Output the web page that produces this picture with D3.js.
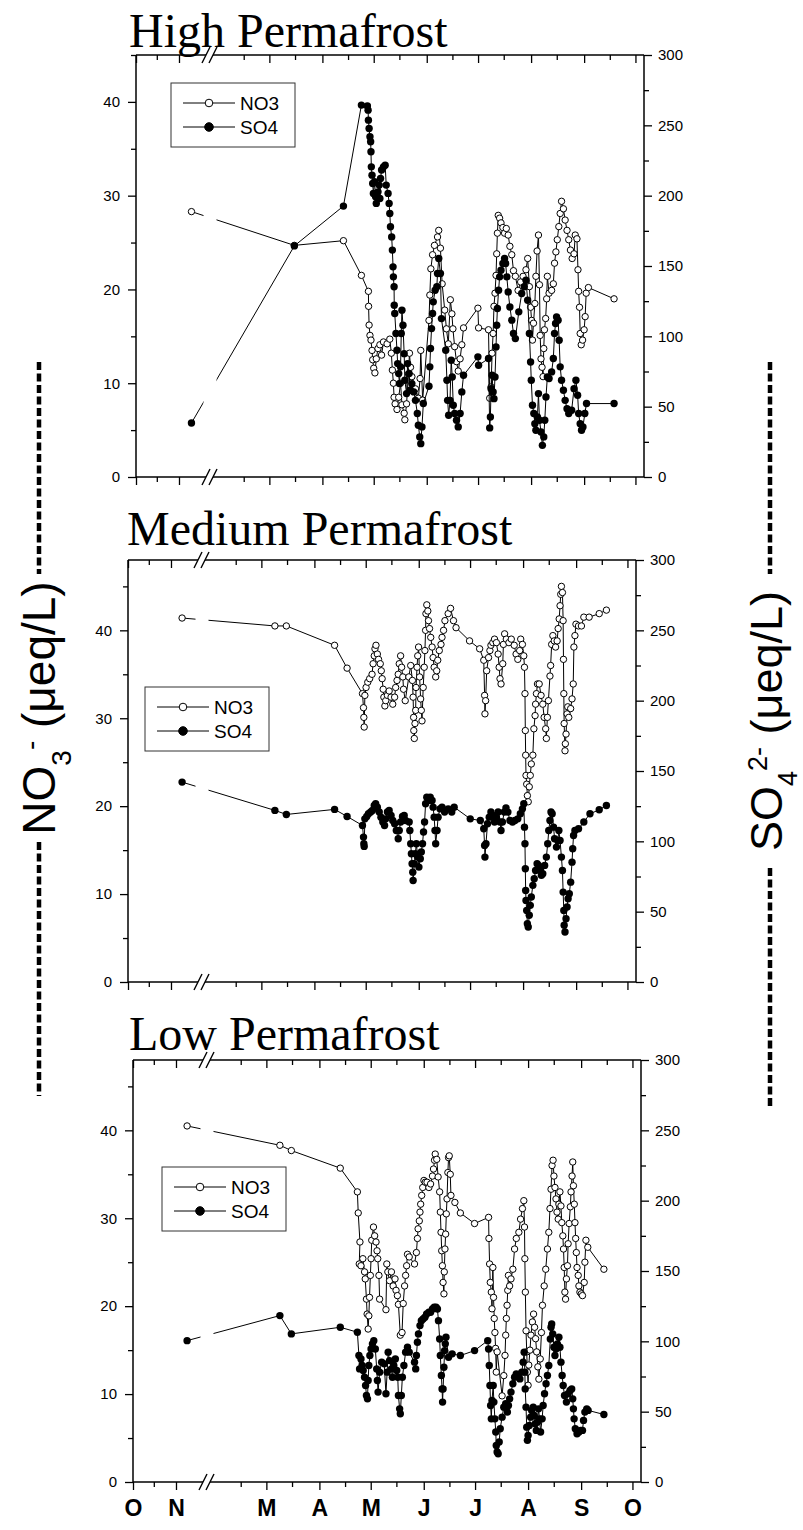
<!DOCTYPE html>
<html><head><meta charset="utf-8">
<script src="https://cdn.jsdelivr.net/npm/d3@7"></script>
<style>body{margin:0;background:#fff}</style>
</head><body>
<svg id="chart" width="803" height="1530" xmlns="http://www.w3.org/2000/svg"></svg>
<script>
// ---------------- DATA ----------------
const panelTitles = ["High Permafrost", "Medium Permafrost", "Low Permafrost"];
const monthLabels = ["O", "N", "M", "A", "M", "J", "J", "A", "S", "O"];
const majorTickDates = ["2004-10-01","2004-11-01","2005-03-01","2005-04-01","2005-05-01","2005-06-01","2005-07-01","2005-08-01","2005-09-01","2005-10-01"];
const minorTickDates = ["2004-10-16","2005-02-14","2005-03-16","2005-04-16","2005-05-16","2005-06-16","2005-07-16","2005-08-16","2005-09-16"];
const leftTicks = [0, 10, 20, 30, 40];
const leftMinor = [5, 15, 25, 35, 45];
const rightTicks = [0, 50, 100, 150, 200, 250, 300];
const rightMinor = [25, 75, 125, 175, 225, 275];
const leftMax = [45, 48, 48];
const seriesNames = ["NO3", "SO4"];

// values: [days after 1 Mar 2005, concentration]
const highNO3 = [[-111,28.3],[14.6,24.7],[43.3,25.2],[53.8,21.5],[57.9,19.8],[58.0,18.2],[58.3,16.2],[58.8,15.1],[59.4,14.6],[60.0,13.5],[60.4,12.5],[61.0,11.6],[61.7,11.1],[62.5,12.6],[63.5,13.7],[64.6,14.1],[65.6,13.0],[66.7,14.4],[68.8,14.2],[70.4,14.7],[71.3,13.2],[71.9,11.4],[72.5,10.0],[72.9,8.5],[73.5,7.8],[74.6,7.2],[75.6,8.5],[76.7,10.0],[77.5,7.7],[78.8,6.8],[79.2,6.1],[80.2,7.8],[81.3,11.0],[81.9,13.2],[82.5,11.7],[83.3,10.7],[85.4,9.4],[87.1,8.4],[88.1,10.5],[88.5,13.5],[89.6,8.2],[93.3,16.7],[93.8,19.4],[94.4,22.2],[95.4,23.7],[96.5,24.7],[98.3,25.6],[99.0,26.3],[100.0,24.4],[101.0,20.6],[102.5,17.8],[103.5,15.8],[104.6,14.2],[105.8,18.9],[106.7,17.4],[107.3,15.8],[108.3,13.9],[109.4,12.3],[110.4,11.3],[111.5,12.6],[112.5,14.1],[113.5,15.9],[121.9,18.0],[122.3,15.9],[128.1,15.7],[128.8,8.4],[129.6,9.6],[130.2,13.2],[130.8,15.3],[131.3,18.2],[131.9,19.6],[132.5,21.5],[132.9,23.8],[133.3,26.0],[133.8,27.9],[134.6,27.6],[135.4,27.1],[136.5,26.6],[137.5,26.0],[138.5,26.5],[139.6,25.8],[140.6,24.6],[141.7,23.7],[142.7,22.0],[143.8,21.4],[145.4,19.9],[146.9,20.8],[148.3,21.4],[150.0,22.1],[151.0,23.3],[152.0,20.3],[152.7,18.1],[153.3,16.7],[153.8,14.6],[154.4,16.4],[155.2,18.5],[155.8,21.4],[156.5,24.1],[157.3,25.8],[157.9,20.5],[158.3,15.1],[158.8,12.6],[159.4,11.7],[160.0,10.7],[160.4,13.7],[160.8,15.7],[161.5,16.9],[162.1,19.0],[162.5,21.4],[163.5,19.6],[165.0,19.9],[166.0,20.6],[166.7,22.8],[167.5,24.0],[168.3,25.3],[169.2,26.7],[170.0,28.1],[170.8,29.4],[171.9,28.6],[172.9,27.4],[174.0,26.3],[175.0,25.3],[176.0,24.2],[177.0,23.3],[178.1,23.8],[178.8,25.8],[179.8,25.4],[180.4,22.1],[180.8,19.8],[181.3,18.1],[181.7,15.3],[182.3,14.1],[183.1,14.6],[184.0,15.7],[184.6,17.1],[185.2,19.6],[186.5,20.2],[201.5,19.0]];
const highSO4 = [[-111,38.4],[14.6,164.3],[43.3,192.6],[53.8,264.4],[57.3,263.7],[57.7,260.8],[57.9,253.7],[58.3,247.8],[58.8,241.9],[59.2,238.3],[59.4,231.2],[59.6,220.5],[60.0,214.6],[60.4,208.7],[60.8,201.6],[61.5,209.9],[62.1,199.2],[62.5,194.5],[63.5,202.7],[64.2,207.5],[64.6,198.0],[65.0,212.2],[65.6,218.2],[66.7,220.5],[67.7,221.7],[68.3,207.5],[69.4,201.6],[70.0,194.5],[70.4,187.3],[70.8,177.9],[71.5,170.7],[71.9,161.3],[72.3,149.4],[72.5,142.3],[72.9,135.2],[73.0,122.1],[73.3,116.2],[74.0,102.0],[74.6,90.1],[75.0,80.6],[75.6,73.5],[76.0,66.4],[76.7,78.3],[77.1,102.0],[77.5,118.6],[78.1,107.9],[78.8,87.7],[79.2,68.8],[80.2,59.3],[80.8,80.6],[81.7,73.5],[82.3,61.7],[83.3,66.4],[84.4,60.5],[85.4,54.5],[86.5,45.1],[87.1,36.8],[87.9,28.5],[88.5,23.7],[89.2,35.6],[90.0,52.2],[93.3,64.5],[93.8,78.3],[94.2,91.3],[94.8,105.5],[95.4,116.2],[95.8,124.5],[96.9,132.8],[97.9,135.2],[98.3,144.7],[99.0,155.3],[100.0,144.7],[100.6,112.6],[103.1,90.1],[103.8,68.8],[104.2,54.5],[104.8,43.9],[105.6,54.5],[106.3,83.0],[106.9,71.1],[107.5,51.0],[108.3,45.1],[109.4,40.3],[110.4,35.6],[111.5,45.1],[112.5,60.5],[113.5,72.3],[121.9,85.4],[122.3,79.4],[128.1,84.2],[128.8,34.9],[129.2,42.7],[129.6,62.8],[130.2,72.3],[130.8,60.5],[131.3,55.7],[131.9,71.1],[132.5,92.5],[132.9,107.9],[133.3,119.8],[134.0,132.8],[134.6,142.3],[135.4,147.0],[136.5,151.8],[137.5,155.3],[138.1,151.8],[138.8,142.3],[139.6,131.6],[140.6,120.9],[141.7,111.5],[142.7,102.0],[143.8,98.4],[145.8,117.4],[147.5,130.4],[149.0,135.2],[150.0,139.9],[151.0,125.7],[152.0,102.0],[152.7,81.8],[153.1,68.8],[153.8,51.0],[154.6,45.1],[155.2,37.9],[155.8,33.2],[156.7,42.7],[157.3,59.3],[157.9,40.3],[158.8,32.0],[159.6,22.5],[160.4,28.5],[161.0,40.3],[161.7,56.9],[162.5,71.1],[163.5,70.0],[165.0,74.7],[166.0,84.2],[166.7,102.0],[167.3,109.1],[167.9,113.8],[168.8,111.5],[169.4,97.2],[170.0,78.3],[170.8,68.8],[171.9,61.7],[172.9,54.5],[174.0,48.6],[175.0,45.1],[176.7,47.4],[178.1,62.8],[179.2,68.8],[180.2,58.1],[180.8,45.1],[181.7,37.9],[182.5,33.2],[183.3,35.6],[184.4,45.1],[185.4,52.2],[201.5,52.2]];

const mediumNO3 = [[-112,41.4],[7.9,40.5],[14.6,40.5],[42.8,38.3],[50.1,35.7],[59.1,32.8],[59.7,31.2],[59.9,30.1],[60.1,29.0],[60.5,32.6],[61.2,33.5],[62.2,34.1],[63.3,34.5],[64.7,35.0],[65.3,36.2],[66.0,37.1],[66.4,37.9],[67.0,38.3],[67.8,37.3],[68.5,36.7],[69.5,36.2],[70.1,35.4],[70.6,34.5],[71.2,33.3],[71.6,32.4],[72.2,31.4],[72.7,32.0],[73.7,32.6],[74.7,33.1],[75.8,32.4],[76.8,31.6],[77.9,32.4],[78.5,33.5],[79.3,34.3],[80.0,35.0],[80.6,36.2],[81.4,37.1],[82.0,35.8],[82.7,34.7],[83.1,33.3],[84.1,32.0],[86.2,34.7],[87.3,36.0],[88.3,34.3],[88.7,32.4],[89.0,30.1],[89.1,28.6],[89.4,27.7],[89.8,29.4],[90.2,30.9],[90.4,33.5],[91.0,35.8],[91.4,37.1],[91.9,38.1],[92.5,34.7],[93.1,32.2],[93.5,30.9],[93.9,29.7],[94.6,33.5],[95.2,35.8],[95.6,37.7],[96.0,40.0],[96.2,41.9],[96.7,42.9],[97.3,42.2],[97.7,41.1],[98.3,40.2],[99.0,39.2],[99.8,38.1],[100.4,36.9],[101.0,35.8],[101.9,34.7],[102.5,35.4],[103.1,36.6],[104.0,37.7],[105.0,38.4],[105.6,39.2],[106.5,40.0],[107.3,41.1],[109.2,41.9],[110.6,42.5],[112.3,41.1],[113.8,40.3],[121.7,38.8],[127.6,37.9],[130.0,36.6],[130.5,32.6],[130.7,30.5],[131.1,32.0],[131.7,35.4],[132.8,36.9],[133.6,37.7],[134.2,38.3],[135.3,38.6],[136.3,39.0],[137.4,38.6],[138.4,37.3],[139.0,35.8],[139.5,34.5],[140.1,33.9],[141.1,36.2],[141.5,38.4],[142.2,39.6],[143.2,39.0],[144.7,38.6],[146.1,39.0],[147.8,38.3],[148.9,37.3],[149.9,36.7],[151.0,37.7],[151.6,39.0],[152.6,38.4],[153.4,37.1],[153.8,35.8],[154.1,32.8],[154.3,28.6],[154.5,25.8],[154.7,23.5],[155.1,22.5],[155.5,21.2],[156.0,20.5],[156.6,22.2],[157.2,23.5],[157.8,24.8],[158.7,25.8],[159.3,28.8],[160.0,30.3],[160.3,31.6],[160.8,32.8],[161.4,33.9],[162.4,33.9],[163.5,32.6],[164.5,31.6],[165.3,30.1],[166.2,28.8],[166.6,27.7],[167.2,30.1],[167.8,32.0],[168.7,34.8],[169.1,36.0],[169.7,38.4],[170.4,39.4],[171.2,38.8],[172.0,38.1],[172.9,38.8],[173.5,40.2],[174.1,41.3],[174.6,42.8],[175.0,44.1],[175.4,45.0],[176.0,44.3],[176.4,41.1],[176.6,36.7],[176.8,32.8],[177.0,29.4],[177.5,26.3],[177.7,27.1],[178.1,28.2],[178.7,30.5],[179.1,31.3],[179.7,30.1],[180.8,31.1],[181.6,32.2],[182.3,33.9],[182.7,38.1],[183.3,39.4],[183.9,40.7],[185.4,40.5],[187.1,40.5],[188.5,41.5],[191.6,41.5],[197.5,41.9],[201.7,42.3]];
const mediumSO4 = [[-112,142.1],[7.9,122.0],[14.6,119.1],[42.8,122.7],[50.1,117.7],[59.1,111.3],[59.7,103.0],[59.9,98.3],[60.1,96.4],[60.5,116.0],[61.6,117.7],[62.6,119.6],[63.9,120.8],[64.9,122.0],[66.0,125.5],[66.8,126.7],[67.8,124.3],[68.9,120.8],[69.9,117.2],[71.0,113.7],[72.0,111.3],[72.7,116.0],[73.7,120.8],[74.7,122.0],[75.8,118.4],[76.8,114.8],[77.9,112.5],[78.9,107.7],[80.0,101.8],[80.6,107.7],[81.4,113.7],[82.5,117.7],[83.5,118.4],[84.3,114.8],[86.4,113.7],[86.8,107.7],[87.3,98.3],[87.7,91.2],[88.1,84.1],[88.5,78.1],[88.7,72.2],[89.4,84.1],[90.0,91.2],[90.6,98.3],[91.4,88.8],[92.1,81.7],[92.9,87.6],[93.5,92.4],[94.2,98.3],[94.8,106.6],[95.4,113.7],[96.0,126.7],[96.7,131.4],[97.7,129.1],[98.7,131.4],[99.8,129.1],[100.4,124.3],[101.0,117.2],[101.5,107.7],[101.9,98.3],[102.7,107.7],[103.3,117.2],[104.4,123.1],[105.6,124.3],[107.1,120.8],[109.2,123.1],[111.3,120.8],[112.7,124.3],[122.1,116.0],[128.0,114.8],[130.0,108.9],[130.5,97.1],[130.7,88.8],[131.3,98.3],[132.2,112.5],[133.2,117.2],[134.2,120.8],[135.3,118.4],[136.3,113.7],[137.4,117.2],[138.4,120.8],[139.5,113.7],[140.1,107.7],[140.9,113.7],[142.0,120.8],[143.0,123.8],[144.1,120.8],[145.3,114.8],[146.8,113.7],[148.2,114.8],[149.9,116.0],[151.4,119.6],[152.6,123.1],[153.4,126.7],[153.8,110.1],[154.1,98.3],[154.3,80.5],[154.5,65.1],[154.7,58.0],[155.1,50.9],[155.5,41.4],[156.0,39.1],[156.6,47.4],[157.2,54.5],[157.8,60.4],[158.7,68.7],[159.5,73.4],[160.3,79.3],[161.2,84.1],[162.0,82.9],[163.1,79.3],[163.7,75.8],[164.5,77.0],[165.6,82.9],[166.6,88.8],[167.4,98.3],[168.0,107.7],[168.7,114.8],[169.3,120.8],[170.0,119.6],[170.8,110.1],[171.4,101.8],[172.5,95.9],[173.3,100.6],[173.9,107.7],[174.6,100.6],[175.4,88.8],[176.0,79.3],[176.4,63.9],[176.8,50.9],[177.0,40.3],[177.5,35.5],[178.1,45.0],[178.7,53.3],[179.3,59.2],[180.0,62.8],[180.8,71.0],[181.6,85.2],[182.0,94.7],[182.5,104.2],[183.3,107.7],[185.4,108.9],[188.5,113.7],[192.1,119.6],[197.5,122.4],[201.7,125.5]];

const lowNO3 = [[-112,40.5],[7.9,38.3],[14.6,37.7],[43.2,35.7],[53.2,33.0],[53.7,30.6],[54.7,27.3],[54.3,24.8],[55.3,24.6],[56.4,25.4],[57.4,23.9],[57.8,23.1],[58.5,20.8],[58.9,19.1],[59.5,17.4],[59.9,18.9],[60.3,21.0],[60.8,23.5],[61.2,25.4],[61.6,27.5],[62.6,29.0],[63.3,28.0],[64.1,27.3],[64.7,26.3],[65.1,25.4],[65.8,23.5],[66.2,20.8],[69.9,19.6],[70.4,24.8],[71.0,23.9],[72.0,22.9],[73.1,23.9],[74.1,22.3],[75.2,23.1],[75.8,21.8],[76.6,21.2],[77.2,20.2],[78.3,16.7],[79.3,17.0],[80.0,20.3],[80.8,22.3],[81.4,23.5],[82.0,24.6],[82.5,25.9],[83.5,25.6],[86.6,24.8],[87.7,26.1],[88.3,27.7],[88.7,28.8],[89.4,29.7],[89.8,30.7],[90.2,31.6],[90.8,32.6],[91.4,33.5],[92.1,34.3],[92.9,34.1],[93.9,34.1],[95.0,33.5],[96.0,33.9],[97.1,34.8],[97.7,35.6],[98.3,36.6],[98.7,37.3],[99.6,36.7],[100.4,34.7],[101.3,33.0],[101.7,30.7],[102.1,28.4],[102.5,26.3],[102.9,24.6],[103.3,22.7],[103.8,21.4],[104.0,23.9],[104.4,26.5],[104.8,28.2],[105.2,30.5],[105.6,32.2],[106.1,35.2],[106.5,36.9],[106.9,37.1],[107.5,35.0],[107.9,32.6],[110.2,31.8],[113.4,30.6],[121.7,29.4],[129.9,30.1],[130.1,27.7],[130.5,24.8],[130.9,22.7],[131.5,21.6],[131.9,19.7],[132.4,24.4],[132.8,21.0],[133.2,18.6],[133.6,17.0],[134.0,15.2],[134.4,12.5],[134.9,14.8],[137.8,9.8],[138.8,12.1],[139.5,14.4],[139.9,16.7],[140.3,18.6],[140.7,20.1],[141.1,21.8],[141.5,23.5],[142.2,22.3],[143.0,23.1],[144.1,24.2],[145.1,26.5],[146.1,27.7],[147.6,28.4],[148.6,29.9],[149.7,31.1],[150.5,32.0],[150.9,29.0],[151.1,25.4],[151.4,21.6],[151.8,17.2],[152.2,14.8],[152.6,12.5],[153.0,11.0],[153.4,13.3],[154.1,15.0],[154.7,16.7],[155.5,18.2],[156.2,19.1],[156.8,17.6],[157.4,16.3],[158.0,14.8],[158.7,13.1],[159.3,11.7],[160.1,14.0],[160.8,17.0],[161.4,20.1],[162.4,22.3],[163.3,24.2],[164.3,26.5],[165.1,28.4],[165.8,31.1],[166.4,33.3],[167.0,36.0],[167.6,36.6],[168.1,34.8],[168.7,33.5],[169.3,32.2],[169.9,30.7],[170.6,29.9],[171.0,31.6],[171.6,33.0],[172.2,31.4],[172.7,29.5],[173.3,28.0],[173.7,26.5],[174.1,24.4],[174.5,21.6],[174.9,20.8],[175.4,23.1],[176.0,24.6],[176.4,27.1],[177.0,29.4],[177.7,31.3],[178.1,33.0],[178.7,34.8],[179.1,36.4],[179.5,33.7],[180.0,31.6],[180.4,29.5],[180.8,27.7],[181.2,26.1],[181.6,24.4],[182.3,23.5],[182.7,22.3],[183.3,21.6],[184.1,21.4],[184.8,21.2],[185.8,22.7],[186.2,25.0],[186.8,27.5],[187.9,26.7],[197.3,24.2]];
const lowSO4 = [[-112,100.5],[7.9,118.3],[14.6,105.3],[43.2,110.0],[53.2,106.5],[54.1,89.9],[54.5,80.4],[55.3,87.5],[56.0,82.8],[56.6,79.3],[57.4,74.5],[58.0,68.6],[58.5,61.5],[59.1,59.1],[59.5,72.2],[59.9,82.8],[60.5,89.9],[61.2,94.6],[62.0,98.2],[62.8,100.5],[63.7,94.6],[64.5,80.4],[64.9,72.2],[65.3,63.9],[66.2,78.1],[67.4,85.2],[68.9,84.0],[69.9,62.7],[70.6,78.1],[71.2,92.3],[72.0,86.3],[73.1,80.4],[73.7,74.5],[74.5,82.8],[75.4,87.5],[76.2,79.3],[76.8,74.5],[77.2,61.5],[77.9,52.0],[78.3,48.5],[78.9,61.5],[79.5,74.5],[80.4,82.8],[81.4,92.3],[82.5,95.8],[83.5,92.3],[86.6,85.2],[87.3,80.4],[87.7,89.9],[88.3,99.4],[88.9,105.3],[89.8,111.2],[90.6,114.7],[91.6,115.9],[92.7,117.1],[93.7,119.5],[95.0,120.7],[96.0,120.7],[97.1,123.0],[98.1,124.2],[99.2,124.2],[100.0,123.0],[100.6,114.7],[101.3,101.7],[101.7,89.9],[102.3,75.7],[102.7,66.2],[103.0,56.8],[103.3,66.2],[103.8,81.6],[104.2,93.4],[104.6,98.2],[105.0,102.9],[106.5,88.7],[108.6,91.1],[113.4,89.9],[121.7,93.4],[129.4,100.5],[129.9,94.6],[130.3,82.8],[130.7,68.6],[131.1,54.4],[131.5,44.9],[131.9,58.0],[132.6,68.6],[133.0,56.8],[133.6,44.9],[134.1,35.5],[134.4,26.0],[134.9,21.3],[135.5,20.1],[136.1,28.4],[136.7,37.9],[137.8,46.1],[138.8,53.2],[139.9,55.6],[140.9,49.7],[141.5,54.4],[142.2,59.1],[143.0,63.9],[144.1,69.8],[145.1,74.5],[146.1,76.9],[147.2,75.7],[148.2,73.3],[149.3,78.1],[150.1,85.2],[150.7,92.3],[151.1,78.1],[151.3,66.2],[151.8,53.2],[152.2,39.0],[152.6,29.6],[153.0,33.1],[153.7,40.2],[154.5,46.1],[155.1,50.9],[156.0,53.2],[156.6,47.3],[157.2,41.4],[157.8,36.7],[158.5,42.6],[159.1,52.0],[159.7,44.9],[160.3,35.5],[161.2,44.9],[161.8,54.4],[162.6,62.7],[163.5,69.8],[164.3,75.7],[165.1,82.8],[166.0,101.7],[166.4,110.0],[166.8,112.4],[167.4,105.3],[168.1,95.8],[168.7,89.9],[169.3,94.6],[170.1,98.2],[171.0,102.9],[171.6,95.8],[172.2,85.2],[172.9,75.7],[173.5,68.6],[174.3,61.5],[175.4,56.8],[176.4,62.7],[177.5,65.1],[178.5,66.2],[179.1,59.1],[179.5,52.0],[179.9,44.9],[180.6,37.9],[181.6,34.3],[182.7,35.5],[183.7,36.7],[184.8,36.7],[185.4,43.8],[186.2,49.7],[187.3,52.0],[188.1,50.9],[197.3,48.0]];

// ---------------- LAYOUT ----------------
const W = 508, H = 422;
const FONT = "'Liberation Sans', Arial, Helvetica, sans-serif";
const SERIF = "'Liberation Serif', 'Times New Roman', Times, serif";
const panels = [
  {left:136, top:55,   titleX:129, titleY:47,   legX:171, legY:83,   no3:highNO3,   so4:highSO4},
  {left:128, top:560,  titleX:127, titleY:545,  legX:145, legY:687,  no3:mediumNO3, so4:mediumSO4},
  {left:133, top:1060, titleX:129, titleY:1050, legX:162, legY:1167, no3:lowNO3,    so4:lowSO4}
];
const utc = s => new Date(s + "T00:00:00Z");
const marchFirst = Date.UTC(2005, 2, 1);
const toDate = d => new Date(marchFirst + d * 864e5);
const BRK = 73.5;
const xDomain = [utc("2004-10-01"), utc("2004-11-23"), utc("2005-01-25"), utc("2005-10-06")];
const xRange = [0, BRK, BRK, W];

const svg = d3.select("#chart");
svg.append("rect").attr("width", 803).attr("height", 1530).attr("fill", "#fff");
const defs = svg.append("defs");

function styleAxis(sel, fs) {
  sel.select(".domain").remove();
  sel.selectAll("line").attr("stroke", "#000").attr("stroke-width", 1.3);
  sel.selectAll("text").attr("font-family", FONT).attr("font-size", fs).attr("fill", "#000");
}

panels.forEach((p, i) => {
  const g = svg.append("g").attr("transform", `translate(${p.left},${p.top})`);
  const x = d3.scaleUtc().domain(xDomain).range(xRange);
  const yL = d3.scaleLinear().domain([0, leftMax[i]]).range([H, 0]);
  const yR = d3.scaleLinear().domain([0, 300]).range([H, 0]);
  const majors = majorTickDates.map(utc), minors = minorTickDates.map(utc);

  // title
  svg.append("text").attr("x", p.titleX).attr("y", p.titleY)
    .attr("font-family", SERIF).attr("font-size", 48).attr("fill", "#000")
    .text(panelTitles[i]);

  // axes
  const bottom = g.append("g").attr("transform", `translate(0,${H})`)
    .call(d3.axisBottom(x).tickValues(majors).tickSize(8).tickPadding(10)
      .tickFormat((d, k) => i === 2 ? monthLabels[k] : ""));
  styleAxis(bottom, 23);
  bottom.selectAll("text").attr("font-weight", "bold");
  styleAxis(g.append("g").attr("transform", `translate(0,${H})`)
    .call(d3.axisBottom(x).tickValues(minors).tickSize(5).tickFormat("")), 12);
  styleAxis(g.append("g").call(d3.axisTop(x).tickValues(majors).tickSize(-8).tickFormat("")), 12);
  styleAxis(g.append("g").call(d3.axisTop(x).tickValues(minors).tickSize(-5).tickFormat("")), 12);

  styleAxis(g.append("g").call(d3.axisLeft(yL).tickValues(leftTicks).tickSize(8).tickPadding(8).tickFormat(d3.format("d"))), 15);
  styleAxis(g.append("g").call(d3.axisLeft(yL).tickValues(leftMinor.filter(v => v <= leftMax[i])).tickSize(5).tickFormat("")), 12);
  styleAxis(g.append("g").attr("transform", `translate(${W},0)`)
    .call(d3.axisRight(yR).tickValues(rightTicks).tickSize(8).tickPadding(6).tickFormat(d3.format("d"))), 15);
  styleAxis(g.append("g").attr("transform", `translate(${W},0)`)
    .call(d3.axisRight(yR).tickValues(rightMinor).tickSize(5).tickFormat("")), 12);

  // frame
  const frame = g.append("g").attr("stroke", "#000").attr("stroke-width", 1.5);
  frame.append("line").attr("x1", 0).attr("x2", W).attr("y1", 0).attr("y2", 0);
  frame.append("line").attr("x1", 0).attr("x2", W).attr("y1", H).attr("y2", H);
  frame.append("line").attr("x1", 0).attr("x2", 0).attr("y1", 0).attr("y2", H);
  frame.append("line").attr("x1", W).attr("x2", W).attr("y1", 0).attr("y2", H);

  // axis break symbols
  [0, H].forEach(yy => {
    const b = g.append("g");
    b.append("polygon")
      .attr("points", `${BRK-7.5},${yy+8} ${BRK+0.5},${yy-8} ${BRK+7.5},${yy-8} ${BRK-0.5},${yy+8}`)
      .attr("fill", "#fff");
    b.append("line").attr("x1", BRK - 7.5).attr("y1", yy + 8).attr("x2", BRK + 0.5).attr("y2", yy - 8)
      .attr("stroke", "#000").attr("stroke-width", 1.4);
    b.append("line").attr("x1", BRK - 0.5).attr("y1", yy + 8).attr("x2", BRK + 7.5).attr("y2", yy - 8)
      .attr("stroke", "#000").attr("stroke-width", 1.4);
  });

  // clip to open a gap in lines at the break
  const cid = "gap" + i;
  const cp = defs.append("clipPath").attr("id", cid);
  cp.append("rect").attr("x", -20).attr("y", -20).attr("width", BRK - 6 + 20).attr("height", H + 40);
  cp.append("rect").attr("x", BRK + 7).attr("y", -20).attr("width", W - BRK).attr("height", H + 40);

  const lineL = d3.line().x(d => x(toDate(d[0]))).y(d => yL(d[1]));
  const lineR = d3.line().x(d => x(toDate(d[0]))).y(d => yR(d[1]));

  // NO3 (left axis, open circles)
  g.append("path").datum(p.no3).attr("d", lineL).attr("fill", "none")
    .attr("stroke", "#000").attr("stroke-width", 1).attr("clip-path", `url(#${cid})`);
  g.append("g").selectAll("circle").data(p.no3).join("circle")
    .attr("cx", d => x(toDate(d[0]))).attr("cy", d => yL(d[1])).attr("r", 3.2)
    .attr("fill", "#fff").attr("stroke", "#000").attr("stroke-width", 1);

  // SO4 (right axis, filled circles)
  g.append("path").datum(p.so4).attr("d", lineR).attr("fill", "none")
    .attr("stroke", "#000").attr("stroke-width", 1).attr("clip-path", `url(#${cid})`);
  g.append("g").selectAll("circle").data(p.so4).join("circle")
    .attr("cx", d => x(toDate(d[0]))).attr("cy", d => yR(d[1])).attr("r", 3.7)
    .attr("fill", "#000");

  // legend
  const lg = svg.append("g").attr("transform", `translate(${p.legX},${p.legY})`);
  lg.append("rect").attr("width", 124).attr("height", 64).attr("fill", "#fff")
    .attr("stroke", "#333").attr("stroke-width", 1);
  seriesNames.forEach((name, k) => {
    const yy = 20 + k * 24;
    lg.append("line").attr("x1", 12).attr("x2", 64).attr("y1", yy).attr("y2", yy)
      .attr("stroke", "#000").attr("stroke-width", 1);
    lg.append("circle").attr("cx", 38).attr("cy", yy).attr("r", k === 0 ? 3.8 : 4.3)
      .attr("fill", k === 0 ? "#fff" : "#000").attr("stroke", "#000").attr("stroke-width", 1);
    lg.append("text").attr("x", 69).attr("y", yy + 7).attr("font-family", FONT)
      .attr("font-size", 19).attr("fill", "#000").text(name);
  });
});

// ---------------- Y AXIS TITLES ----------------
function axisTitle(cx, cy, fs, parts) {
  const t = svg.append("text").attr("transform", `translate(${cx},${cy}) rotate(-90)`)
    .attr("text-anchor", "middle").attr("font-family", FONT).attr("font-size", fs).attr("fill", "#000");
  parts.forEach(pt => {
    const s = t.append("tspan").text(pt.t);
    if (pt.sh) s.attr("baseline-shift", pt.sh).attr("font-size", Math.round(fs * 0.61));
  });
}
axisTitle(55, 708, 46, [{t:"NO"}, {t:"3", sh:"sub"}, {t:"-", sh:"super"}, {t:" (μeq/L)"}]);
axisTitle(782, 721, 45, [{t:"SO"}, {t:"4", sh:"sub"}, {t:"2-", sh:"super"}, {t:" (μeq/L)"}]);

const dash = (xx, y1, y2) => svg.append("line").attr("x1", xx).attr("x2", xx).attr("y1", y1).attr("y2", y2)
  .attr("stroke", "#000").attr("stroke-width", 4.5).attr("stroke-dasharray", "8,3.5");
dash(39, 362, 574);
dash(39, 842, 1096);
dash(770, 362, 574);
dash(770, 868, 1106);
</script>
</body></html>
